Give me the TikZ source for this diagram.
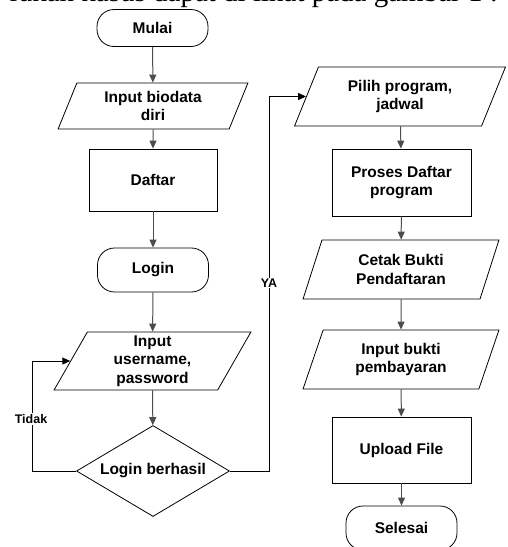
\documentclass[tikz,border=0pt]{standalone}
\usepackage{fontspec}
\setmainfont{Liberation Sans}
\newfontfamily\serifbody{Liberation Serif}
\usetikzlibrary{shapes.geometric,arrows.meta}
\tikzset{
  base/.style={draw, line width=0.8pt, inner sep=1pt, align=center,
    font=\fontsize{15.5}{18.5}\selectfont\bfseries},
  terminal/.style={base, rectangle, rounded corners=17pt, minimum width=111pt, minimum height=37pt},
  process/.style={base, rectangle, minimum width=139pt, minimum height=66pt},
  io/.style={base, trapezium, trapezium left angle=#1, trapezium right angle={180-#1},
    trapezium stretches=true, minimum width=196pt, minimum height=59pt},
  decision/.style={base, diamond, aspect=1.68, inner sep=0pt, minimum width=153pt, minimum height=91pt},
  arr/.style={draw=black!70, line width=1pt, -{Triangle[length=8pt,width=7pt]}},
  lbl/.style={fill=white, inner sep=1pt, font=\fontsize{12.5}{14}\selectfont\bfseries}
}
\begin{document}
\begin{tikzpicture}[x=1pt, y=-1pt]
\useasboundingbox (0,0) rectangle (507,547);
\clip (0,0) rectangle (507,547);
% baris teks di atas gambar
\node (teks) [anchor=base east, inner sep=0pt, font=\fontsize{29}{34}\selectfont\serifbody] at (498,1) {rakan kasus dapat di lihat pada gambar 1 :};
% kolom kiri
\node (mulai) [terminal] at (152.5,28) {Mulai};
\node (biodata) [io=69, minimum width=190pt, minimum height=46pt] at (153,106) {Input biodata\\diri};
\node (daftar) [process, minimum width=128pt, minimum height=62pt] at (153,180) {Daftar};
\node (login) [terminal, minimum height=44pt] at (153,270) {Login};
\node (user) [io=69, minimum width=197pt, minimum height=58pt] at (152.5,361) {Input\\username,\\password};
\node (cek) [decision] at (153,471) {Login berhasil};
% kolom kanan
\node (pilih) [io=66, minimum width=211pt] at (400,96.5) {Pilih program,\\jadwal};
\node (proses) [process, minimum height=67pt] at (401.5,182.5) {Proses Daftar\\program};
\node (cetak) [io=71] at (401,269.5) {Cetak Bukti\\Pendaftaran};
\node (bukti) [io=71] at (401,359.5) {Input bukti\\pembayaran};
\node (upload) [process] at (401.5,450) {Upload File};
\node (selesai) [terminal, minimum height=44pt] at (401.5,528) {Selesai};
% panah
\draw[arr] (mulai) -- (biodata);
\draw[arr] (biodata) -- (daftar);
\draw[arr] (daftar) -- (login);
\draw[arr] (login) -- (user);
\draw[arr] (user) -- (cek);
\draw[arr] (pilih) -- (proses);
\draw[arr] (proses) -- (cetak);
\draw[arr] (cetak) -- (bukti);
\draw[arr] (bukti) -- (upload);
\draw[arr] (upload) -- (selesai);
\draw[arr, draw=black] (cek.west) -- ++(-44,0) |- (user.west);
\draw[arr, draw=black] (cek.east) -- ++(40,0) |- (pilih.west);
\node (tidak) [lbl] at (31,419) {Tidak};
\node (ya) [lbl] at (269,283) {YA};
\end{tikzpicture}
\end{document}
